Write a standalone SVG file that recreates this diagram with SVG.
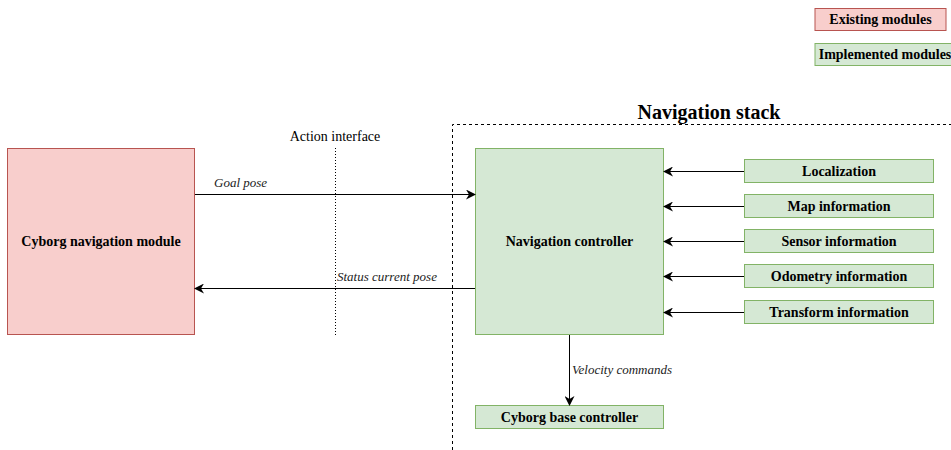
<svg xmlns="http://www.w3.org/2000/svg" width="951" height="450" viewBox="0 0 951 450">
  <defs>
    <style>
      .red { fill: #f8cecc; stroke: #b85450; stroke-width: 1; }
      .green { fill: #d5e8d4; stroke: #82b366; stroke-width: 1; }
      .lbl { font-family: "Liberation Serif", "Times New Roman", serif; font-weight: bold; font-size: 14px; fill: #000; text-anchor: middle; dominant-baseline: central; }
      .edge { font-family: "Liberation Serif", "Times New Roman", serif; font-style: italic; font-size: 13px; fill: #222; }
      .plain { font-family: "Liberation Serif", "Times New Roman", serif; font-size: 14px; fill: #000; text-anchor: middle; }
      .title { font-family: "Liberation Serif", "Times New Roman", serif; font-weight: bold; font-size: 20px; fill: #000; text-anchor: middle; }
      .conn { stroke: #000; stroke-width: 1; fill: none; }
    </style>
    <marker id="arrow" viewBox="0 0 10 10" refX="9" refY="5" markerWidth="10" markerHeight="10" markerUnits="userSpaceOnUse" orient="auto">
      <path d="M0,0 L10,5 L0,10 L3,5 Z" fill="#000"/>
    </marker>
  </defs>
  <rect width="951" height="450" fill="#fff"/>

  <!-- Legend -->
  <g id="legend-existing">
    <rect class="red" x="815" y="8.5" width="131" height="22"/>
    <text class="lbl" x="880.5" y="19.5">Existing modules</text>
  </g>
  <g id="legend-implemented">
    <rect class="green" x="815" y="43.5" width="140" height="22"/>
    <text class="lbl" x="885" y="54.5">Implemented modules</text>
  </g>

  <!-- Navigation stack boundary -->
  <g id="navigation-stack">
    <path d="M452.5,450 V124.5 H951" stroke="#000" stroke-width="1" stroke-dasharray="3,3" fill="none"/>
    <text class="title" x="709" y="119">Navigation stack</text>
  </g>

  <!-- Action interface -->
  <g id="action-interface">
    <line x1="335.5" y1="148" x2="335.5" y2="335" stroke="#000" stroke-width="1" stroke-dasharray="1,2"/>
    <text class="plain" x="335" y="141">Action interface</text>
  </g>

  <!-- Nodes -->
  <g id="cyborg-navigation-module">
    <rect class="red" x="7.5" y="148.5" width="187" height="186"/>
    <text class="lbl" x="101" y="241.5">Cyborg navigation module</text>
  </g>
  <g id="navigation-controller">
    <rect class="green" x="475.5" y="148.5" width="188" height="186"/>
    <text class="lbl" x="569.5" y="241.5">Navigation controller</text>
  </g>
  <g id="localization">
    <rect class="green" x="744.5" y="159.5" width="189" height="23"/>
    <text class="lbl" x="839" y="171">Localization</text>
  </g>
  <g id="map-information">
    <rect class="green" x="744.5" y="194.5" width="189" height="23"/>
    <text class="lbl" x="839" y="206">Map information</text>
  </g>
  <g id="sensor-information">
    <rect class="green" x="744.5" y="229.5" width="189" height="23"/>
    <text class="lbl" x="839" y="241">Sensor information</text>
  </g>
  <g id="odometry-information">
    <rect class="green" x="744.5" y="264.5" width="189" height="23"/>
    <text class="lbl" x="839" y="276">Odometry information</text>
  </g>
  <g id="transform-information">
    <rect class="green" x="744.5" y="300.5" width="189" height="23"/>
    <text class="lbl" x="839" y="312">Transform information</text>
  </g>
  <g id="cyborg-base-controller">
    <rect class="green" x="475.5" y="405.5" width="188" height="23"/>
    <text class="lbl" x="569.5" y="417">Cyborg base controller</text>
  </g>

  <!-- Connectors -->
  <g id="connectors">
    <line class="conn" x1="195" y1="194.5" x2="475" y2="194.5" marker-end="url(#arrow)"/>
    <line class="conn" x1="475" y1="288.5" x2="195" y2="288.5" marker-end="url(#arrow)"/>
    <line class="conn" x1="744" y1="171.5" x2="664" y2="171.5" marker-end="url(#arrow)"/>
    <line class="conn" x1="744" y1="206.5" x2="664" y2="206.5" marker-end="url(#arrow)"/>
    <line class="conn" x1="744" y1="241.5" x2="664" y2="241.5" marker-end="url(#arrow)"/>
    <line class="conn" x1="744" y1="276.5" x2="664" y2="276.5" marker-end="url(#arrow)"/>
    <line class="conn" x1="744" y1="312.5" x2="664" y2="312.5" marker-end="url(#arrow)"/>
    <line class="conn" x1="569.5" y1="335" x2="569.5" y2="405" marker-end="url(#arrow)"/>
    <text class="edge" x="214" y="187">Goal pose</text>
    <text class="edge" x="337" y="281">Status current pose</text>
    <text class="edge" x="572" y="374">Velocity commands</text>
  </g>
</svg>
